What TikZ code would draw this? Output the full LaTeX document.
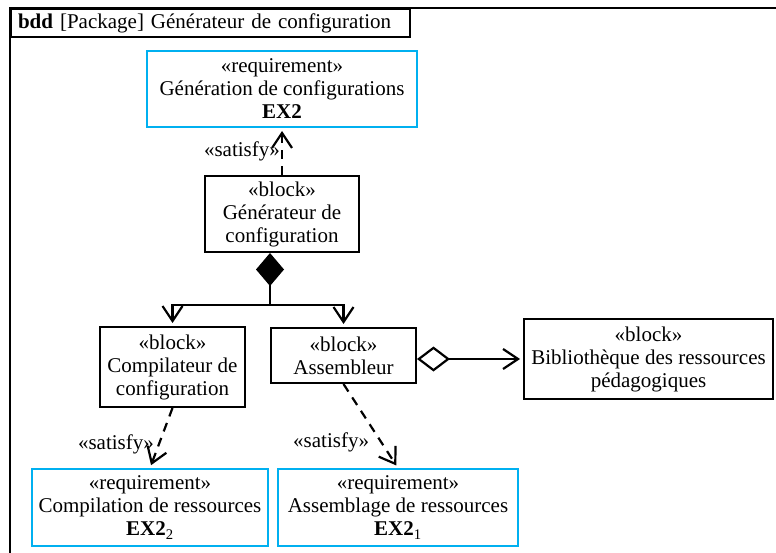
\documentclass[tikz,border=0pt]{standalone}
\usepackage{fontspec}
\setmainfont{Liberation Serif}
\usetikzlibrary{arrows.meta, positioning}
\definecolor{reqblue}{RGB}{0,176,240}

\begin{document}
\begin{tikzpicture}[
x=1pt, y=1pt,
font=\fontsize{21}{23}\selectfont,
box/.style={rectangle, draw=black, line width=2pt, align=center, inner sep=2pt},
reqbox/.style={box, draw=reqblue},
link/.style={line width=2.2pt, shorten >=3pt},
arrow/.style={link, -{Straight Barb[length=15pt, width=20pt]}},
satisfy/.style={arrow, dash pattern=on 9pt off 7pt},
compo/.style={link, {Diamond[length=33pt, width=28pt]}-{Straight Barb[length=15pt, width=20pt]}},
aggr/.style={link, {Diamond[open, length=33pt, width=25pt]}-{Straight Barb[length=15pt, width=20pt]}},
lbl/.style={inner sep=1pt}
]
\useasboundingbox (0,0) rectangle (776,-553);

\draw[line width=2pt] (776,-8) -- (10,-8) -- (10,-553);
\node[draw, line width=2pt, anchor=north west, text width=385pt, inner xsep=7pt,
      minimum height=28pt, align=left] (tab) at (10,-8)
      {\textbf{bdd} [Package] Générateur de configuration};

\node[reqbox, minimum width=270pt, minimum height=76pt] (req) at (282,-89)
      {«requirement»\\Génération de configurations\\\textbf{EX2}};
\node[box, minimum width=154pt, minimum height=76pt] (gen) at (282,-214)
      {«block»\\Générateur de\\configuration};
\node[box, minimum width=145pt, minimum height=80pt] (comp) at (172.5,-367)
      {«block»\\Compilateur de\\configuration};
\node[box, minimum width=145pt, minimum height=55pt] (asm) at (343.5,-355.5)
      {«block»\\Assembleur};
\node[box, minimum width=249pt, minimum height=80pt] (bib) at (648.5,-359)
      {«block»\\Bibliothèque des ressources\\pédagogiques};
\node[reqbox, minimum width=236pt, minimum height=77pt] (reqcomp) at (150,-507.5)
      {«requirement»\\Compilation de ressources\\\textbf{EX2}\textsubscript{2}};
\node[reqbox, minimum width=240pt, minimum height=77pt] (reqasm) at (398,-507.5)
      {«requirement»\\Assemblage de ressources\\\textbf{EX2}\textsubscript{1}};

\coordinate (fork) at (270,-305);

\draw[satisfy] (gen) -- node[midway, left, lbl] (satgen) {«satisfy»} (req);
\draw[compo] (gen.south -| fork) -- (fork) -| (comp.north);
\draw[arrow] (fork) -| (asm.north);
\draw[aggr] (bib.west -| asm.east) -- (bib.west);
\draw[satisfy] (comp.south) -- node[pos=0.6, left=3pt, lbl] (satcomp) {«satisfy»} (reqcomp.north);
\draw[satisfy] (asm.south) -- node[pos=0.69, left=10pt, lbl] (satasm) {«satisfy»} (reqasm.north);

\end{tikzpicture}
\end{document}
